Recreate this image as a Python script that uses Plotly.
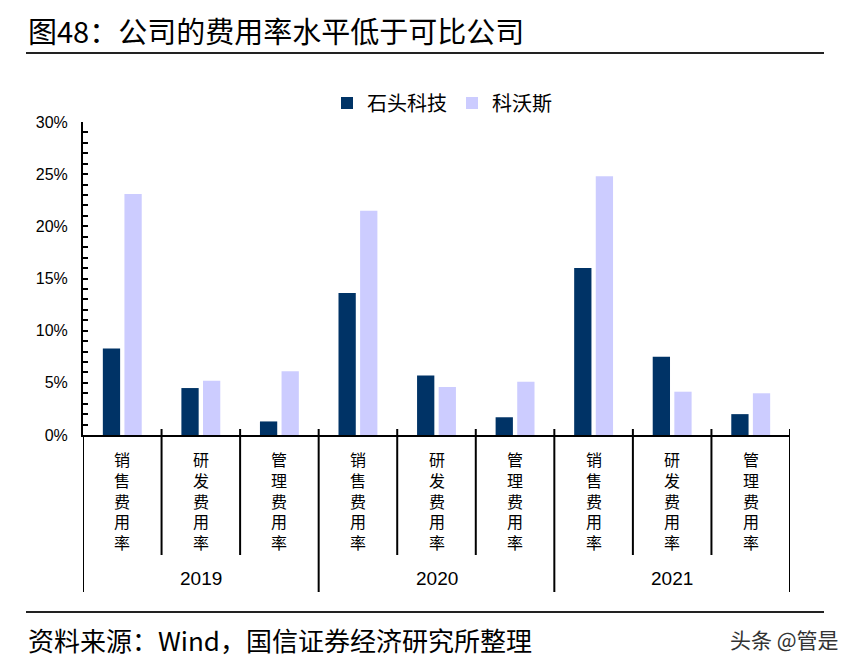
import plotly.graph_objects as go

# ---------------- data ----------------
years = ["2019", "2020", "2021"]
metrics = ["销售费用率", "研发费用率", "管理费用率"]
series_names = ["石头科技", "科沃斯"]
shitou = [8.3, 4.5, 1.3, 13.6, 5.7, 1.7, 16.0, 7.5, 2.0]      # %
ecovacs = [23.1, 5.2, 6.1, 21.5, 4.6, 5.1, 24.8, 4.15, 4.0]   # %
y_ticks = [0, 5, 10, 15, 20, 25, 30]

title_text = "图48：公司的费用率水平低于可比公司"
source_text = "资料来源：Wind，国信证券经济研究所整理"
watermark_text = "头条 @管是"

# ---------------- layout constants ----------------
OFF = 8                      # default page body margin
W, H = 851 - OFF, 671 - OFF
L, R, T, B = 83 - OFF, 61, 122 - OFF, 236
PH = H - T - B
PW = W - L - R
CJK = "Noto Sans CJK SC, Noto Sans, sans-serif"
NUM = "Liberation Sans, Arial, sans-serif"

PLOT_BOTTOM_REF = 435
PLOT_LEFT_REF = 83


def py(pix):
    """reference-image pixel y (from top) -> paper y"""
    return (PLOT_BOTTOM_REF - pix) / PH


def px(pix):
    """reference-image pixel x -> paper x"""
    return (pix - PLOT_LEFT_REF) / PW


n_cat = len(years) * len(metrics)
xs = list(range(n_cat))
cat_labels = [m for _ in years for m in metrics]

fig = go.Figure()
fig.add_trace(go.Bar(x=xs, y=[v / 100 for v in shitou], name=series_names[0],
                     marker=dict(color="#003366", line=dict(width=0))))
fig.add_trace(go.Bar(x=xs, y=[v / 100 for v in ecovacs], name=series_names[1],
                     marker=dict(color="#CCCCFF", line=dict(width=0))))

shapes = []
annotations = []

# category separators and year separators
for k in range(n_cat + 1):
    b = k - 0.5
    is_year = (k % len(metrics) == 0)
    shapes.append(dict(type="line", xref="x", yref="paper", x0=b, x1=b,
                       y0=(6 / PH) if k > 0 else 0,
                       y1=py(592) if is_year else py(555),
                       line=dict(color="black", width=2)))

# vertical category labels (one character per line)
for i, lab in enumerate(cat_labels):
    annotations.append(dict(x=xs[i], xref="x", y=py(445), yref="paper",
                            text="<br>".join(lab), showarrow=False,
                            xanchor="center", yanchor="top",
                            font=dict(family=CJK, size=16, color="black")))

# year labels
for g, yr in enumerate(years):
    annotations.append(dict(x=g * len(metrics) + (len(metrics) - 1) / 2, xref="x",
                            y=py(578), yref="paper", text=yr, showarrow=False,
                            xanchor="center", yanchor="middle",
                            font=dict(family=NUM, size=19, color="black")))

# title, source, watermark
annotations.append(dict(x=px(26), xref="paper", y=py(29.5), yref="paper", text=title_text,
                        showarrow=False, xanchor="left", yanchor="middle",
                        font=dict(family=CJK, size=29, color="black")))
annotations.append(dict(x=px(26), xref="paper", y=py(639), yref="paper", text=source_text,
                        showarrow=False, xanchor="left", yanchor="middle",
                        font=dict(family=CJK, size=26, color="black")))
annotations.append(dict(x=px(841), xref="paper", y=py(639), yref="paper", text=watermark_text,
                        showarrow=False, xanchor="right", yanchor="middle",
                        font=dict(family=CJK, size=21, color="#333333")))

# horizontal rules
for yy in (53, 612):
    shapes.append(dict(type="line", xref="paper", yref="paper", x0=px(26), x1=px(824),
                       y0=py(yy), y1=py(yy), line=dict(color="#222222", width=2)))

fig.update_layout(
    width=W, height=H,
    margin=dict(l=L, r=R, t=T, b=B),
    paper_bgcolor="white", plot_bgcolor="white",
    barmode="group", bargap=0.45, bargroupgap=0.2,
    showlegend=True,
    legend=dict(orientation="h", x=px(442), xanchor="center", y=py(103), yanchor="middle",
                font=dict(family=CJK, size=20, color="black"), itemwidth=30,
                bgcolor="rgba(0,0,0,0)", tracegroupgap=0),
    xaxis=dict(range=[-0.5, n_cat - 0.5], showticklabels=False, ticks="",
               showgrid=False, zeroline=False, showline=True, linecolor="black", linewidth=2,
               fixedrange=True),
    yaxis=dict(range=[0, 0.30], tickvals=[v / 100 for v in y_ticks],
               ticktext=[f"{v}%" for v in y_ticks],
               ticks="inside", ticklen=5, tickwidth=1.5, tickcolor="black",
               minor=dict(dtick=0.01, ticks="inside", ticklen=5, tickwidth=1.5, tickcolor="black"),
               showgrid=False, zeroline=False, showline=True, linecolor="black", linewidth=2,
               tickfont=dict(family=NUM, size=16, color="black"), ticklabelstandoff=10,
               fixedrange=True),
    shapes=shapes,
    annotations=annotations,
)

fig.write_html("out.html")
